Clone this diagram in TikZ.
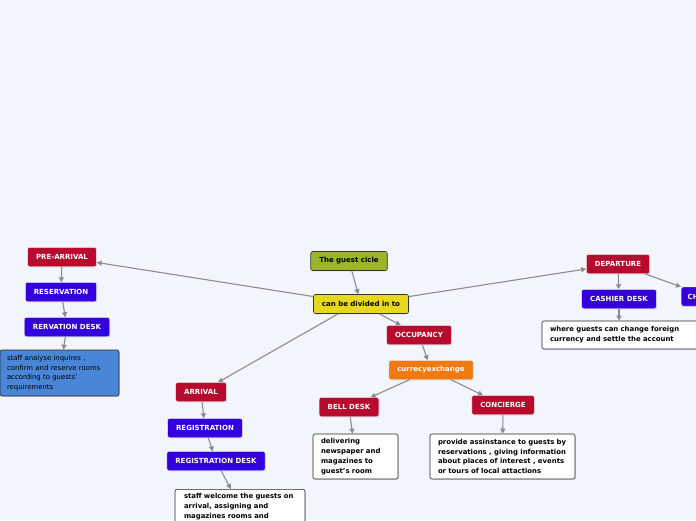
\documentclass[tikz,border=0pt]{standalone}
\usepackage{fontspec}
\setmainfont{DejaVu Sans}
\usetikzlibrary{arrows.meta,shadows}
\definecolor{bg}{HTML}{F3F5FD}
\definecolor{redbox}{HTML}{B70A2C}
\definecolor{bluebox}{HTML}{3300DD}
\definecolor{notebox}{HTML}{4A86D8}
\definecolor{orangebox}{HTML}{EE7A12}
\definecolor{greenbox}{HTML}{9DB52B}
\definecolor{yellowbox}{HTML}{E6D81C}
\definecolor{linkgray}{HTML}{8C8C8C}
\begin{document}
\begin{tikzpicture}[x=1pt, y=-1pt,
        head/.style = {rounded corners=2pt, minimum height=19pt, inner xsep=8.5pt, text=white,
                       font=\bfseries\fontsize{7}{8}\selectfont, draw=white!85!gray, thin,
                       drop shadow={shadow xshift=0.8pt, shadow yshift=-0.8pt, opacity=0.25}},
        phase/.style = {head, fill=redbox},
        desk/.style = {head, fill=bluebox},
        main/.style = {head, text=black, draw=black!80, semithick},
        note/.style = {rounded corners=2pt, draw=black!85, semithick, fill=white, align=left,
                       inner xsep=8pt, inner ysep=3pt, font=\bfseries\fontsize{6.9}{9.8}\selectfont,
                       drop shadow={shadow xshift=0.8pt, shadow yshift=-0.8pt, opacity=0.25}},
        link/.style = {draw=linkgray, line width=1.1pt, -{Triangle[length=5pt, width=5pt]}}]

    \fill[bg] (0,0) rectangle (696,520);
    \useasboundingbox (0,0) rectangle (696,520);

    % centre
    \node[main, fill=greenbox] (guest) at (349,261) {The guest cicle};
    \node[main, fill=yellowbox] (divided) at (361,304) {can be divided in to};

    % pre-arrival
    \node[phase] (prearrival) at (62,257) {PRE-ARRIVAL};
    \node[desk] (reservation) at (61,292) {RESERVATION};
    \node[desk] (resdesk) at (67,327) {RERVATION DESK};
    \node[note, fill=notebox, font=\fontsize{6.9}{9.8}\selectfont, text width=105pt, inner xsep=7pt,
          minimum height=46pt] (analyse) at (59.5,373)
          {staff analyse inquires ,\\confirm and reserve rooms\\according to guests'\\requirements};

    % arrival
    \node[phase] (arrival) at (201,392) {ARRIVAL};
    \node[desk] (registration) at (205,428) {REGISTRATION};
    \node[desk] (regdesk) at (216,461) {REGISTRATION DESK};
    \node[note, anchor=north, text width=112pt, inner xsep=9pt, inner ysep=4pt] (welcome) at (240,489)
          {staff welcome the guests on\\arrival, assigning and\\magazines rooms and};

    % occupancy
    \node[phase] (occupancy) at (419,335) {OCCUPANCY};
    \node[head, fill=orangebox] (exchange) at (431,370) {currecyexchange};
    \node[phase] (bell) at (349,407) {BELL DESK};
    \node[phase] (concierge) at (503,405) {CONCIERGE};
    \node[note, text width=69pt, minimum height=45pt] (delivering) at (355.5,456.5)
          {delivering\\newspaper and\\magazines to\\guest's room};
    \node[note, text width=129pt, minimum height=45pt] (assist) at (502.5,456.5)
          {provide assinstance to guests by\\reservations , giving information\\about places of interest , events\\or tours of local attactions};

    % departure
    \node[phase] (departure) at (618,264) {DEPARTURE};
    \node[desk] (cashier) at (619,299) {CASHIER DESK};
    \node[desk, anchor=west, inner xsep=6.5pt, text width=40pt, align=left] (checkout) at (681,296.5) {CH};
    \node[note, text width=150pt, minimum height=28pt] (foreign) at (625,335)
          {where guests can change foreign\\currency and settle the account};

    % links
    \draw[link] (guest) -- (divided);
    \draw[link] (divided) -- (prearrival);
    \draw[link] (divided) -- (departure);
    \draw[link] (divided.south west) ++(25,0) -- (arrival);
    \draw[link] (divided) -- (occupancy);
    \draw[link] (prearrival) -- (reservation);
    \draw[link] (reservation) -- (resdesk);
    \draw[link] (resdesk) -- (analyse);
    \draw[link] (arrival) -- (registration);
    \draw[link] (registration) -- (regdesk);
    \draw[link] (regdesk) -- (welcome);
    \draw[link] (occupancy) -- (exchange);
    \draw[link] (exchange) -- (bell);
    \draw[link] (exchange) -- (concierge);
    \draw[link] (bell) -- (delivering);
    \draw[link] (concierge) -- (assist);
    \draw[link] (departure) -- (cashier);
    \draw[link] (departure) -- (checkout);
    \draw[link] (cashier) -- (foreign.north -| cashier);
\end{tikzpicture}
\end{document}
